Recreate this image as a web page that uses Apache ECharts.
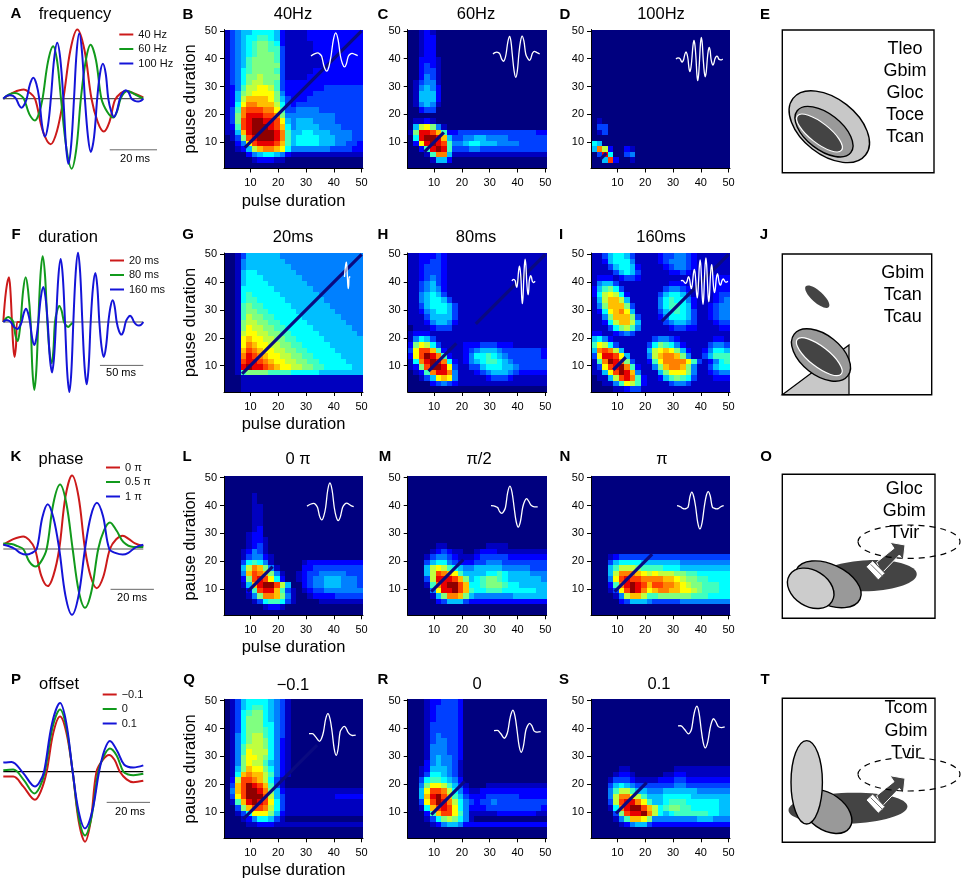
<!DOCTYPE html>
<html><head><meta charset="utf-8">
<style>html,body{margin:0;padding:0;background:#fff}#c{width:964px;height:884px}</style>
<script src="https://cdn.jsdelivr.net/npm/echarts@6/dist/echarts.min.js"></script>
</head><body><div id="c"></div>
<script>
// ---- waveforms: time (ms) and amplitude (% of full scale)
const t40=[0,4.4,8.7,11,13.4,16.7,20,22.7,25.4,28.4,31.3,34.3,37.3,39.9,42.5,44.9,47.2,49.7,52.1,55.6,59.2];
const a40=[0,9,13,9,0,-46,-65,-46,0,70,99,70,0,-33,-47,-33,-2,8,11,7,2];
const t60=[0,2.4,4.9,6.8,8.7,11,13.4,15,16.6,18.9,21.1,22.8,24.4,26.7,28.9,30.9,32.8,34.9,36.9,39.2,41.5,44,46.5,48,49.6,51,52.4,55.8,59.2];
const a60=[0,6,8,6,0,-22,-31,-22,0,53,75,53,0,-71,-100,-71,0,55,77,55,0,-19,-27,-19,0,8,11,6,0];
const t100=[0,1.4,2.8,4.1,5.4,6.6,7.7,8.8,9.9,11.3,12.7,14,15.2,16.4,17.6,18.9,20.1,21.5,22.8,24.1,25.4,26.5,27.5,28.7,29.9,31,32.1,33.3,34.5,35.8,37,38.4,39.7,40.9,42.1,43.3,44.4,45.6,46.8,48,49.3,50.6,51.8,53,54.2,55.6,57,58.1,59.2];
const a100=[0,4,5,4,0,-9,-13,-9,0,21,30,21,0,-38,-54,-38,0,57,80,57,0,-66,-93,-66,0,66,93,66,0,-54,-76,-54,0,36,50,36,0,-18,-26,-18,0,9,12,9,0,-3,-4,-3,0];
const t20ms=[0,3.2,6.5,8.2,10,11.5,13,14.6,16.2,20];
const a20ms=[0,45,64,45,0,-35,-50,-35,0,0];
const t80ms=[0,2.9,5.8,8.6,11.5,14,16.5,18.2,20,22.9,25.8,28.6,31.5,33.6,35.8,38.1,40.4,42.9,45.4,48.1,50.8,53.3,55.8,57.7,59.6,62.1,64.6,67.3,70,72.5,75,77.5,80];
const a80ms=[0,5,7,5,0,-19,-27,-19,0,45,64,45,0,-69,-97,-69,0,67,94,67,0,-42,-59,-42,0,16,23,16,0,-5,-7,-4,-1];
const t160ms=[0,1.9,3.8,6.2,8.5,12.3,16.2,18.7,21.2,23.7,26.2,28.5,30.8,33.3,35.8,38.1,40.4,43.3,46.2,48.7,51.2,53.7,56.2,58.5,60.8,63.5,66.2,68.7,71.2,73.7,76.2,78.5,80.8,83.5,86.2,88.7,91.2,93.7,96.2,98.5,100.8,103.5,106.2,108.5,110.8,113.3,115.8,118.5,121.2,123.7,126.2,128.5,130.8,133.5,136.2,138.7,141.2,143.7,146.2,148.5,150.8,153.6,156.5,159,161.5];
const a160ms=[0,2,3,2,0,-7,-10,-7,0,13,19,13,0,-23,-33,-23,0,35,50,35,0,-51,-72,-51,0,64,90,64,0,-71,-100,-71,0,70,99,70,0,-63,-89,-63,0,50,70,50,0,-35,-50,-35,0,22,31,22,0,-13,-18,-13,0,6,9,6,0,-4,-5,-4,0];
const tPh0=[0,4.6,9.2,11.9,14.6,17.5,20.5,23.1,25.8,28.7,31.7,34.7,37.7,40.4,43.1,46.1,49.2,52.1,55.1,58,60.8,64.6];
const aPh0=[6,14,18,13,0,-38,-53,-38,0,75,105,75,0,-40,-56,-40,0,14,19,14,8,4];
const tPh5=[0,3.8,6.5,9.2,12,14.9,17.4,20,23.1,26.2,29.1,32,34.8,37.7,40.7,43.8,46.5,49.2,52.3,55.4,60,64.6];
const aPh5=[8,7,4,0,-18,-25,-18,0,65,92,65,0,-60,-84,-60,0,27,38,26,10,3,3];
const tPh1=[0,2.7,5.4,8,10.5,13,15.4,18,20.5,23.1,25.8,28.7,31.7,34.7,37.7,40.4,43.2,46,48.9,52,55.1,57.5,60,62.3,64.6];
const aPh1=[6,4,0,-6,-8,-6,0,45,64,45,0,-67,-94,-67,0,47,66,47,0,-6,-8,-6,0,4,6];
const tOffM=[0,4.6,9.2,14.6,17.3,20,23.1,26.2,29.1,32,34.8,37.7,40.3,43,45.9,48.8,51.3,53.8,56.9,60,64.6];
const aOffM=[-7,-7,-21,-40,-28,0,56,79,56,0,-71,-100,-71,0,17,24,17,0,-11,-15,-13];
const tOff0=[0,4.6,9.5,14.3,16.8,19.2,22.7,26.2,29.1,32,34.8,37.7,40.7,43.8,46.5,49.2,52.3,55.4,57.7,60,64.6];
const aOff0=[2,3,-12,-31,-22,0,63,89,63,0,-65,-91,-65,0,23,33,23,0,-4,-5,-3];
const tOffP=[0,3.8,9.2,14.6,16.7,18.8,22.5,26.2,29.1,32,34.8,37.7,41,44.2,46.7,49.2,52.5,55.8,60,64.6];
const aOffP=[13,14,-2,-21,-15,0,69,98,69,0,-57,-81,-57,0,31,44,30,10,6,9];

// ---- response maps: rows top (pause 50) to bottom (pause 1), one hex level per 2-unit cell of pulse duration
const mapB=["1345566665211112222222222","1345667765211112222222222","1345678876211111222222222","1345678877311111222222222","1345678887311111122222222","1345788887311111112222222","1345788888311111112222222","1346788887311111222222222","1346889888311112222222222","1346899887322222222222222","124799aa97322222223333333","12589aaaa8422222333333333","1259bbbba8532223333333333","126accbbb9632333333333333","137cdddcca733444433333333","138ceeeddc844444444433333","138deffeeda54555444433333","127defffedb64555544443333","115beffffec75566555444433","0138defffec75666655544433","0024adeeedb75666655544332","001259bccba64444444333322","00002456654211","0000012221100","0"];
const mapC=["0012100","0012200","0012200","0012200","0012200","0022210","0023210","0023310","0024310","0134410","0145420","0155520","0155520","0145410","0023300","0","01121000","059a8410","18eedb72233333333333333222","06effeb5334455444433333","02aefed744566555444433333","0027efe7333443333","00017cc51111","000015520","0"];
const mapD=["0","0","0","0","0","0","0","0","0","0","0","0","0","0","0","0","0100","0330","0130","0","650","5c9200210","03e600340","005d20010","0"];
const mapG=["0013555555444","00145555555444","001455555555444","0015665555555444","00156665555555444","001566665555555444","0016666665555555444","00167666665555555444","001677666665555555444","0017877666665555555444","00178877666665555555444","001798877666665555555444","0018998877666665555555444","0018a99887766666555555544","0019aa9988776666655555554","001abaa998877666665555555","001acbaa99887766666555555","001bdcbaa9988776666655555","001cedcbaa998877666665555","001deedcbaa99887766666555","001efeedcbaa9988776666655","00178888777766666555","00011111","00011111","00011111"];
const mapH=["112223211","112233211","11233321","11233321","11234321","11345321","11345421","11456531","114566531","1135666531","1124566531","1113555531","1112455421","0111233311","1222111111","146531","28a96311112223332221","3addb72111234555433333332","2adfec72112466765433333322","16cefec621245677654333333","128dffea31133566655433333","0127ceec411123455543222222","00135aba4111112333211111","0000234321","0"];
const mapI=["1135665311112334432111111","1125666411112344432111111","1113566521111234432111111","1111356531111122321111111","1222123321111111111111222","1455311111111122211111222","2578631111111344321111222","269a962111113566531111233","159bb95111114676642111234","148bbb8311114677652112344","126abca511113567653112344","1148bbb831112466653112344","11269bb951111345543111233","1113689741111123322111122","2211234311111111111111111","5642111111134432111111221","7a96311111368764211113443","5cdc95111159aba8521124665","3aeeda511149bccb841135777","17cfec831127acccca7312467","13adefc721148bccb84113566","115adfeb411158aaa84112344","01159dec7211257876311122","001147a97211113443111111","00001123311"];
const mapL=["0","0","0","0000010","0000010","00000110","00000110","00000110","00000110","00000120","00001220","000012210","000012310","000124310","0001344210","0003676410000012222222222","0005 9cb841000022333333333","0004 bdcb84100123344444333","0002 8deda62001234455544433","0001 5beffd9500234455544433","00002 7deeb7310123344444444","00001 48ccb84100122223333333","000001 367763100001111111","0000000 12210","0"];
const mapM=["0","0","0","0","0","0","0","0","0","0","0","0","00000110000000 11110","0000123211001222111111111","0001344321112333332222222","0003566432223344433333333","00059a976544555554444433","00059dcba75555667655554444","00039eeedb856788765555554","00017ceffdb66788876655555","00004aeefdb76677766666655","0000158ccb85444444455555","00000 23555322222222222","0","0"];
const mapN=["0","0","0","0","0","0","0","0","0","0","0","0","0","0","0001233333333333333333","0003566665555555444444444","0005799987777666555555555","00059cccba9a99988776666","0004adeddccccbba98877666","00027cefedbddccba9887776","00013adfecabccbbaa9877766","000014 9bb97788888877766","00000 2355543333344444444","0","0"];
const mapQ=["0135666654310","0135677654310","0136788654310","0136888654310","0136888664310","0136888764310","0146899764310","0146899864210","0147999864210","0147a99964210","0148aa9864210","0148a99754210","0158baa864210","016bcbb974210","029ddcb96310","03bdfedb7310","04bdffec85211111111111111","03adfffd95311111111122222","017befeda63111111111111111","0038bddc96311","00136aaa8521","000124665310","0000112221","0","0"];
const mapR=["00012233320","00012333320","00012333320","00012333320","00013333320","00013333320","00013433320","00013443320","00014443320","00014443320","00014544320","00024544310","00125554310","00136654310","00367765420","0048aa97531000111111111","005addc964211222222222222","005befdb7532223333332222","003adfec964323343333333332","0016bdeda64222333333333322","00027bdda74111112222222111","0001368986410","00001245542","0","0"];
const mapS=["0","0","0","0","0","0","0","0","0","0","0","0","00000110000000011","0000122100000112211","000133321111222332222222","000356543333333443333333","000479975544455555544444","00049cca97555666665555555","00039deeca755677766666655","00016ceffdb96788776666655","00003 8deefc96567777776655","000014 7bba84444444455544","00000 124553222222222","0","0"];

// ---- diagonals
const diagB=[[8,8],[50,50]], diagC=[[6.5,6.5],[13.5,13.5]], diagD=[[4,4],[6,6]];
const diagG=[[7,7],[50,50]], diagH=[[8,8],[18,18],['-','-'],[25,25],[50,50]], diagI=[[8.5,8.5],[13,13],['-','-'],[26,26],[50,50]];
const diagL=[[9,9],[18,18]], diagM=[[9,9],[20.5,20.5]], diagN=[[9,9],[22.5,22.5]];
const diagQ=[[7.5,7.5],[34,34]], diagR=[[9,9],[21,21]], diagS=[[9.5,9.5],[20.5,20.5]];

const pulseCategories=Array.from({length:50},(_,i)=>String(i+1));
const jet=['#00007f','#0000bf','#0000ff','#0040ff','#0080ff','#00bfff','#00ffff','#40ffbf','#80ff80','#bfff40','#ffff00','#ffbf00','#ff8000','#ff4000','#e80000','#8f0000'];
const RED='#cc1a1a',GREEN='#119a1c',BLUE='#1414d8';
const FONT='"Liberation Sans",Arial,sans-serif';

const zip=(t,a)=>t.map((v,i)=>[v,a[i]]);
function cells(rows){
  const out=[];
  rows.forEach((row,r)=>{
    const s=row.replace(/ /g,'');
    for(let c=0;c<25;c++){
      const ch=c<s.length?s[c]:s[s.length-1];
      out.push([2*c+0.5,48.5-2*r,parseInt(ch,16)]);
    }
  });
  return out;
}
function renderCell(params,api){
  const x=api.value(0),y=api.value(1);
  const a=api.coord([x,y+2]),b=api.coord([x+2,y]);
  const l=Math.round(a[0]),t=Math.round(a[1]),r=Math.round(b[0]),bo=Math.round(b[1]);
  return {type:'rect',shape:{x:l,y:t,width:r-l,height:bo-t},style:{fill:api.visual('color'),stroke:null}};
}

const grid=[],xAxis=[],yAxis=[],series=[],legend=[],heatSeries=[];
const PX=0.7; // px per amplitude unit in the stimulus panels
const SMOOTH=0.35;
// stimulus panels
const stim=[
 {base:98.7,tmax:59.2,line:'#555',waves:[['40 Hz',t40,a40,RED],['60 Hz',t60,a60,GREEN],['100 Hz',t100,a100,BLUE]],bar:[45,65,-73],leg:[119.3,29]},
 {base:322,tmax:161.5,line:'#555',waves:[['20 ms',t20ms,a20ms,RED],['80 ms',t80ms,a80ms,GREEN],['160 ms',t160ms,a160ms,BLUE]],bar:[111.5,161.5,-62],leg:[110,255]},
 {base:549,tmax:64.6,line:'#555',waves:[['0 π',tPh0,aPh0,RED],['0.5 π',tPh5,aPh5,GREEN],['1 π',tPh1,aPh1,BLUE]],bar:[49.5,69.5,-57.6],leg:[106,462]},
 {base:771.7,tmax:64.6,line:'#000',waves:[['−0.1',tOffM,aOffM,RED],['0',tOff0,aOff0,GREEN],['0.1',tOffP,aOffP,BLUE]],bar:[47.7,67.7,-43.8],leg:[102.7,689]}
];
stim.forEach(p=>{
  const g=grid.length, h=220*PX, span=p.tmax+25;
  grid.push({left:3.3,top:p.base-h/2,width:140*span/p.tmax,height:h});
  xAxis.push({type:'value',gridIndex:g,min:0,max:span,show:false});
  yAxis.push({type:'value',gridIndex:g,min:-110,max:110,show:false});
  const idx=xAxis.length-1;
  series.push({type:'line',xAxisIndex:idx,yAxisIndex:idx,data:[[0,0],[p.tmax,0]],showSymbol:false,lineStyle:{color:p.line,width:1.2},silent:true,z:1});
  p.waves.forEach(w=>{
    series.push({type:'line',name:w[0],xAxisIndex:idx,yAxisIndex:idx,data:zip(w[1],w[2]),smooth:SMOOTH,showSymbol:false,
      itemStyle:{color:w[3]},lineStyle:{color:w[3],width:2},z:2});
  });
  series.push({type:'line',xAxisIndex:idx,yAxisIndex:idx,data:[[p.bar[0],p.bar[2]],[p.bar[1],p.bar[2]]],showSymbol:false,lineStyle:{color:'#666',width:1},silent:true,z:1});
  legend.push({left:p.leg[0],top:p.leg[1],orient:'vertical',itemWidth:14,itemHeight:2,itemGap:3.5,padding:0,icon:'rect',
    data:p.waves.map(w=>w[0]),textStyle:{fontSize:11,fontFamily:FONT,color:'#111'},selectedMode:false});
});
// response panels
const colX=[224,407.7,591];
const rowY=[29.5,253,476.3,699.3];
const panels=[
 [0,0,mapB,diagB,[311,56,t40,a40]],[1,0,mapC,diagC,[493,54,t60,a60]],[2,0,mapD,diagD,[676,59,t100,a100]],
 [0,1,mapG,diagG,[344.5,277,t20ms,a20ms]],[1,1,mapH,diagH,[512,281,t80ms,a80ms]],[2,1,mapI,diagI,[681,281,t160ms,a160ms]],
 [0,2,mapL,diagL,[307,507.5,tPh0,aPh0]],[1,2,mapM,diagM,[491,507.5,tPh5,aPh5]],[2,2,mapN,diagN,[677,507,tPh1,aPh1]],
 [0,3,mapQ,diagQ,[309,732,tOffM,aOffM]],[1,3,mapR,diagR,[494,731,tOff0,aOff0]],[2,3,mapS,diagS,[678,729,tOffP,aOffP]]
];
const isTick=i=>(i+1)%10===0;
panels.forEach(([cx,ry,map,diag,ins])=>{
  const g=grid.length;
  grid.push({left:colX[cx],top:rowY[ry],width:139,height:139});
  const base={type:'category',gridIndex:g,data:pulseCategories,z:5,
    axisLine:{show:true,lineStyle:{color:'#000',width:1}},
    axisTick:{show:true,alignWithLabel:true,interval:isTick,length:4,lineStyle:{color:'#000'}},
    axisLabel:{interval:isTick,fontSize:11,fontFamily:FONT,color:'#000'},splitLine:{show:false},splitArea:{show:false}};
  xAxis.push(Object.assign({},base,{position:'bottom',axisLabel:Object.assign({},base.axisLabel,{margin:9}),
    name:cx===0?'pulse duration':'',nameLocation:'middle',nameGap:24,nameTextStyle:{fontSize:16.5,fontFamily:FONT,color:'#000',verticalAlign:'top'}}));
  yAxis.push(Object.assign({},base,{position:'left',axisLabel:Object.assign({},base.axisLabel,{margin:7}),
    name:cx===0?'pause duration':'',nameLocation:'middle',nameGap:25,nameTextStyle:{fontSize:16.5,fontFamily:FONT,color:'#000'}}));
  xAxis.push({type:'value',gridIndex:g,min:0.5,max:50.5,show:false});
  yAxis.push({type:'value',gridIndex:g,min:0.5,max:50.5,show:false});
  const vi=xAxis.length-1;
  heatSeries.push(series.length);
  series.push({type:'custom',xAxisIndex:vi,yAxisIndex:vi,data:cells(map),renderItem:renderCell,encode:{x:0,y:1},silent:true,z:1});
  series.push({type:'line',xAxisIndex:vi,yAxisIndex:vi,data:diag,showSymbol:false,connectNulls:false,lineStyle:{color:'#0a0a80',width:3.2,cap:'butt'},silent:true,z:3});
  // inset: the same stimulus, in white
  const tmax=ins[2][ins[2].length-1];
  const sx=46.7/(ry===0?59.2:ry===1?161.5:64.6);
  const ig=grid.length;
  const h=220*PX/3;
  grid.push({left:ins[0],top:ins[1]-h/2,width:tmax*sx,height:h});
  xAxis.push({type:'value',gridIndex:ig,min:0,max:tmax,show:false});
  yAxis.push({type:'value',gridIndex:ig,min:-110,max:110,show:false});
  const ii=xAxis.length-1;
  series.push({type:'line',xAxisIndex:ii,yAxisIndex:ii,data:zip(ins[2],ins[3]),smooth:SMOOTH,showSymbol:false,lineStyle:{color:'#fff',width:1.3},silent:true,z:4});
});

// ---- text and schematic drawings
const gfx=[];
const T=(x,y,text,size,weight,align)=>gfx.push({type:'text',x,y,style:{text,fontSize:size,fontWeight:weight||'normal',fontFamily:FONT,fill:'#000',align:align||'center',verticalAlign:'middle'},z:10});
const E=(cx,cy,rx,ry,deg,fill,stroke,lw,dash)=>gfx.push({type:'ellipse',x:cx,y:cy,rotation:deg*Math.PI/180,shape:{cx:0,cy:0,rx,ry},style:{fill:fill||'none',stroke:stroke||'none',lineWidth:lw||0,lineDash:dash||null},z:10});
const Box=(x,y,w,h)=>gfx.push({type:'rect',shape:{x,y,width:w,height:h},style:{fill:'#fff',stroke:'#000',lineWidth:1.4},z:10});
const P=(pts,fill,stroke,lw,closed)=>gfx.push({type:closed===false?'polyline':'polygon',shape:{points:pts},style:{fill:fill||'none',stroke:stroke||'none',lineWidth:lw||0},z:10});
const z3=(ox,oy,a)=>a.map(p=>[ox+p[0]/3,oy+p[1]/3]);
function arrow(ox,oy,dy){
  P(z3(ox,oy,[[410,352+dy],[462,310+dy],[450,292+dy],[495,300+dy],[490,345+dy],[478,330+dy],[425,385+dy]]),'#444','#fff',1);
  P(z3(ox,oy,[[378,365+dy],[398,347+dy],[435,385+dy],[415,405+dy]]),'#fff','#444',1);
  P(z3(ox,oy,[[392,358+dy],[428,394+dy]]),'none','#777',1,false);
}
[['A',16,14],['B',188,15],['C',383,15],['D',565,15],['E',765,15],['F',16,235],['G',188,235],['H',383,235],['I',561,235],['J',764,235],['K',16,457],['L',187,457],['M',385,457],['N',565,457],['O',766,457],['P',16,680],['Q',189,680],['R',383,680],['S',564,680],['T',765,680]].forEach(a=>T(a[1],a[2],a[0],15,'bold'));
[['frequency',75,14.5],['duration',68,237],['phase',61,459],['offset',59,684],['40Hz',293,14],['60Hz',476,14],['100Hz',661,14],['20ms',293,237],['80ms',476,237],['160ms',661,237],['0 π',298,459],['π/2',479,459],['π',662,459],['−0.1',293,685],['0',477,684],['0.1',659,684]].forEach(a=>T(a[1],a[2],a[0],16.5));
[['20 ms',135,159],['50 ms',121,373],['20 ms',132,598],['20 ms',130,812]].forEach(a=>T(a[1],a[2],a[0],11));
// E
Box(782.3,30,151.7,142.7);
E(829.3,126.7,46,28,-38,'#c8c8c8','#000',1.4);
E(824,131.7,34,18,-38,'#999','#000',1.4);
E(819.5,133,28,10,-38,'#444','#fff',1.2);
[['Tleo',49],['Gbim',71.3],['Gloc',93.3],['Toce',115],['Tcan',137]].forEach(a=>T(905,a[1],a[0],18));
// J
Box(782.3,254,149.4,140.7);
P(z3(740,0,[[127,1184],[327,1035],[327,1184]]),'#c8c8c8','#000',1.2);
E(817.3,296.7,15.5,5.8,-42,'#444');
E(821,355,34,20,-38,'#999','#000',1.4);
E(819.3,356.7,28,10,-38,'#444','#fff',1.2);
[['Gbim',272.7],['Tcan',295],['Tcau',316.7]].forEach(a=>T(902.7,a[1],a[0],18));
// O
Box(782.3,474.3,152.7,144);
E(868.3,575.7,48.5,15.5,2,'#444');
E(828.3,584.3,35,20,-25,'#999','#000',1.4);
E(810.7,588.3,25,18,-32,'#ccc','#000',1.4);
arrow(740,445,0);
E(909,541.7,51,16.7,0,'none','#000',1.2,[6,5]);
[['Gloc',489],['Gbim',510.7],['Tvir',532.7]].forEach(a=>T(904.3,a[1],a[0],18));
// T
Box(782.3,698.3,152.7,144);
E(848,808.3,59.5,15.5,2,'#444');
E(826.7,811.7,28,18,-35,'#999','#000',1.4);
E(806.7,782.3,15.7,41.7,0,'#ccc','#000',1.4);
arrow(740,445,700);
E(909,774.3,51,16.7,0,'none','#000',1.2,[6,5]);
[['Tcom',708.3],['Gbim',731],['Tvir',753.3]].forEach(a=>T(906,a[1],a[0],18));

const chart=echarts.init(document.getElementById('c'),null,{renderer:'canvas'});
chart.setOption({animation:false,backgroundColor:'#fff',textStyle:{fontFamily:FONT},grid,xAxis,yAxis,legend,
  visualMap:{type:'continuous',show:false,min:0,max:15,dimension:2,seriesIndex:heatSeries,inRange:{color:jet}},
  series,graphic:{elements:gfx}});
</script></body></html>
